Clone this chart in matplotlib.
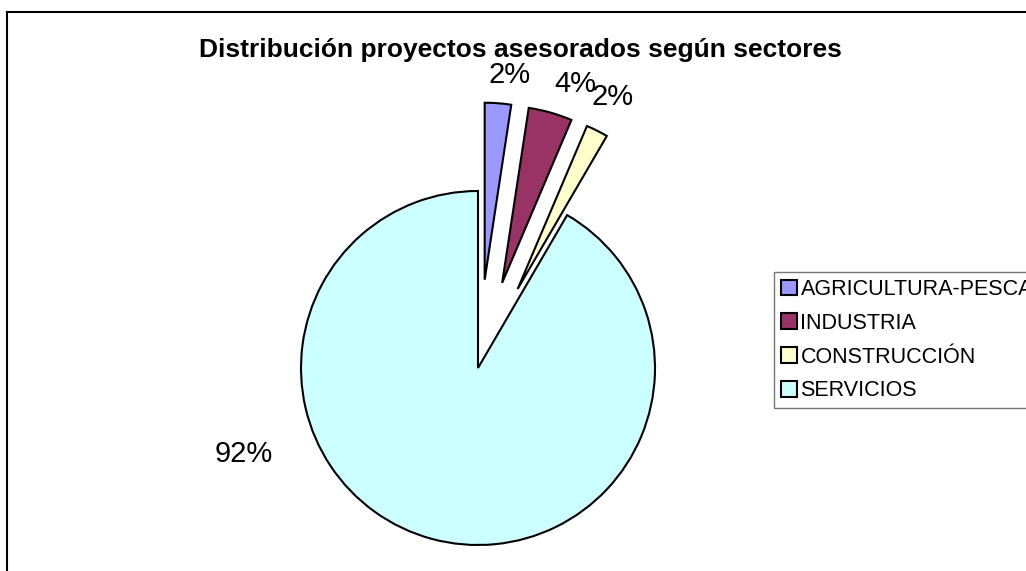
import matplotlib
matplotlib.use("Agg")
import matplotlib.pyplot as plt

# data
sectores = ["AGRICULTURA-PESCA", "INDUSTRIA", "CONSTRUCCIÓN", "SERVICIOS"]
proyectos = [6, 10, 5, 229]
etiquetas = ["2%", "4%", "2%", "92%"]
colores = ["#9999FF", "#993366", "#FFFFCC", "#CCFFFF"]
explode = [0.5, 0.5, 0.5, 0.0]

W, H = 1026, 571
R = 177.0               # pie radius in pixels
cx, cy = 478.0, 368.0   # pie centre in pixels (from top-left)


def px(x, y):
    # pixel position (from top-left) -> data coords of the pie axes
    return (x - cx) / R, (cy - y) / R


plt.rcParams['font.family'] = ['Liberation Sans', 'DejaVu Sans']

fig = plt.figure(figsize=(W / 100, H / 100), dpi=100)
ax = fig.add_axes([0, 0, 1, 1])

wedges, _ = ax.pie(proyectos, colors=colores, explode=explode, startangle=90,
                   counterclock=False, radius=1.0,
                   wedgeprops=dict(edgecolor="black", linewidth=1.5))

ax.set_xlim(-cx / R, (W - cx) / R)
ax.set_ylim(-(H - cy) / R, cy / R)
ax.set_aspect('auto')
ax.axis('off')

# percentage labels, anchored at baseline centre
pos_lab = [(510, 83), (575, 92), (613, 105), (244, 462)]
for txt, (x, y) in zip(etiquetas, pos_lab):
    ax.text(*px(x, y), txt, ha='center', va='baseline', fontsize=21, color='black')

fig.text(199 / W, 1 - 57 / H, "Distribución proyectos asesorados según sectores",
         ha='left', va='baseline', fontsize=19, fontweight='bold')

leg = ax.legend(wedges, sectores, loc='upper left',
                bbox_to_anchor=(774 / W, 1 - 272 / H), bbox_transform=fig.transFigure,
                fontsize=15.5, frameon=True, fancybox=False, handlelength=0.75,
                handleheight=0.75, handletextpad=0.15, labelspacing=0.59,
                borderpad=0.33, borderaxespad=0)
leg.get_frame().set_edgecolor('#555555')
leg.get_frame().set_linewidth(1.0)

# outer chart border (left and top visible)
fig.add_artist(plt.Line2D([7 / W, 7 / W], [0, 1 - 12 / H], color='black',
                          linewidth=1.5, transform=fig.transFigure))
fig.add_artist(plt.Line2D([7 / W, 1], [1 - 12 / H, 1 - 12 / H], color='black',
                          linewidth=1.5, transform=fig.transFigure))

fig.savefig("out.png", dpi=100, facecolor='white')
